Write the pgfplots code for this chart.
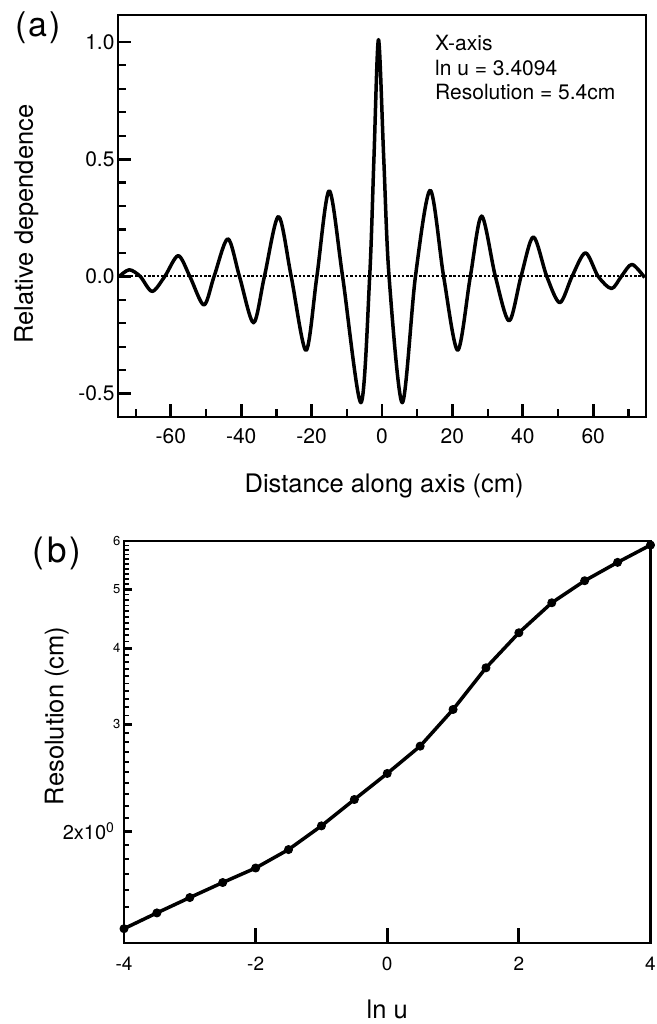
\documentclass[border=0pt]{standalone}
\usepackage{fontspec}
\setmainfont{TeX Gyre Heros}
\usepackage{pgfplots}
\pgfplotsset{compat=1.18}
\begin{document}
\begin{tikzpicture}
\useasboundingbox (0pt,0pt) rectangle (656pt,1024pt);
% ---------------- panel (a)
\begin{axis}[
  at={(118pt,607pt)}, anchor=south west,
  scale only axis, width=528pt, height=402pt,
  xmin=-75, xmax=75, ymin=-0.6, ymax=1.115,
  enlargelimits=false, clip mode=individual,
  axis line style={line width=2.5pt, black},
  xtick pos=bottom, ytick pos=left, tick align=inside,
  major tick length=13pt, minor tick length=8pt,
  every tick/.style={black, line width=2.8pt},
  every minor tick/.style={black, line width=2.2pt},
  xtick={-60,-40,-20,0,20,40,60}, xticklabels={-60,-40,-20,0,20,40,60},
  minor xtick={-70,-50,-30,-10,10,30,50,70},
  ytick={-0.5,0,0.5,1}, yticklabels={-0.5,0.0,0.5,1.0},
  minor ytick={-0.4,-0.3,-0.2,-0.1,0.1,0.2,0.3,0.4,0.6,0.7,0.8,0.9},
  tick label style={font=\fontsize{21}{21}\selectfont},
  xticklabel style={yshift=-8pt},
  label style={font=\fontsize{25.5}{25.5}\selectfont, inner sep=0pt},
  xlabel={Distance along axis (cm)},
  ylabel={Relative dependence},
  xlabel style={at={(axis description cs:0.504,-0.1866)}, anchor=base},
  ylabel style={at={(axis description cs:-0.161,0.48)}, anchor=base},
]
\addplot[black, line width=2pt, dash pattern=on 2.5pt off 1.8pt] coordinates {(-75,0) (75,0)};
\addplot[black, line width=3.5pt, smooth, line join=round] coordinates {
(-74.6,0.0) (-71.8,0.028) (-68.7,0) (-65.3,-0.064) (-61.7,0) (-57.9,0.088)
(-54.6,0) (-50.6,-0.122) (-47.7,0) (-43.8,0.16) (-40.5,0) (-36.5,-0.198)
(-33.4,0) (-29.4,0.255) (-25.8,0) (-21.6,-0.316) (-18.5,0) (-15.0,0.365)
(-11.2,0) (-6.0,-0.539) (-3.5,0) (-2.3,0.5) (-1.0,1.01) (0.5,0.5) (2.0,0)
(5.75,-0.539) (9.5,0) (13.7,0.367) (17.5,0) (21.5,-0.315) (25.1,0)
(28.3,0.257) (32.2,0) (36.1,-0.19) (39.5,0) (43.0,0.168) (46.8,0)
(50.5,-0.112) (54.0,0) (57.8,0.1) (61.4,0) (65.2,-0.052) (68.0,0)
(71.0,0.051) (74.6,-0.005)
};
\end{axis}
\node[anchor=base west, inner sep=0pt, font=\fontsize{21}{21}\selectfont] at (435pt,973pt) {X-axis};
\node[anchor=base west, inner sep=0pt, font=\fontsize{21}{21}\selectfont] at (435pt,948pt) {ln u = 3.4094};
\node[anchor=base west, inner sep=0pt, font=\fontsize{21}{21}\selectfont] at (435pt,924pt) {Resolution = 5.4cm};
\node[inner sep=0pt, font=\fontsize{34}{34}\selectfont] at (38pt,996pt) {(\kern2pt a\kern2pt)};
\node[inner sep=0pt, font=\fontsize{35}{35}\selectfont] at (57pt,471pt) {(\kern3pt b\kern3pt)};
% ---------------- panel (b)
\begin{axis}[
  at={(124pt,81pt)}, anchor=south west,
  scale only axis, width=526.5pt, height=402pt,
  xmin=-4, xmax=4, ymin=1.31, ymax=6, ymode=log,
  enlargelimits=false, clip mode=individual,
  axis line style={line width=2.5pt, black},
  xtick pos=bottom, ytick pos=left, tick align=inside,
  major tick length=8pt, minor tick length=5pt,
  every tick/.style={black, line width=2.8pt},
  every minor tick/.style={black, line width=1.8pt},
  xtick={-4,-2,0,2,4}, xticklabels={-4,-2,0,2,4},
  xticklabel style={font=\fontsize{19}{19}\selectfont, yshift=-10.5pt},
  extra x ticks={-2,0,2}, extra x tick labels={},
  extra x tick style={major tick length=15pt},
  ytick={2,3,4,5,6},
  yticklabels={{\fontsize{20}{20}\selectfont 2x10\textsuperscript{0}\kern6pt},{\fontsize{13}{13}\selectfont 3},{\fontsize{13}{13}\selectfont 4},{\fontsize{13}{13}\selectfont 5},{\fontsize{13}{13}\selectfont 6}},
  minor ytick={1.4,1.5,1.6,1.7,1.8,1.9,2.1,2.2,2.3,2.4,2.5,2.6,2.7,2.8,2.9,3.1,3.2,3.3,3.4,3.5,3.6,3.7,3.8,3.9,4.1,4.2,4.3,4.4,4.5,4.6,4.7,4.8,4.9,5.1,5.2,5.3,5.4,5.5,5.6,5.7,5.8,5.9},
  label style={font=\fontsize{25.5}{25.5}\selectfont, inner sep=0pt},
  xlabel={ln u},
  ylabel={Resolution (cm)},
  xlabel style={at={(axis description cs:0.5,-0.189)}, anchor=base},
  ylabel style={at={(axis description cs:-0.115,0.565)}, anchor=base},
]
\addplot[black, line width=3.5pt, line join=round, mark=*, mark size=4pt, mark options={solid, line width=1pt, fill=black}] coordinates {
(-4,1.383) (-3.5,1.468) (-3,1.556) (-2.5,1.647) (-2,1.740) (-1.5,1.866)
(-1,2.041) (-0.5,2.255) (0,2.489) (0.5,2.760) (1,3.171) (1.5,3.713)
(2,4.239) (2.5,4.749) (3,5.162) (3.5,5.534) (4,5.909)
};
\end{axis}
\end{tikzpicture}
\end{document}
